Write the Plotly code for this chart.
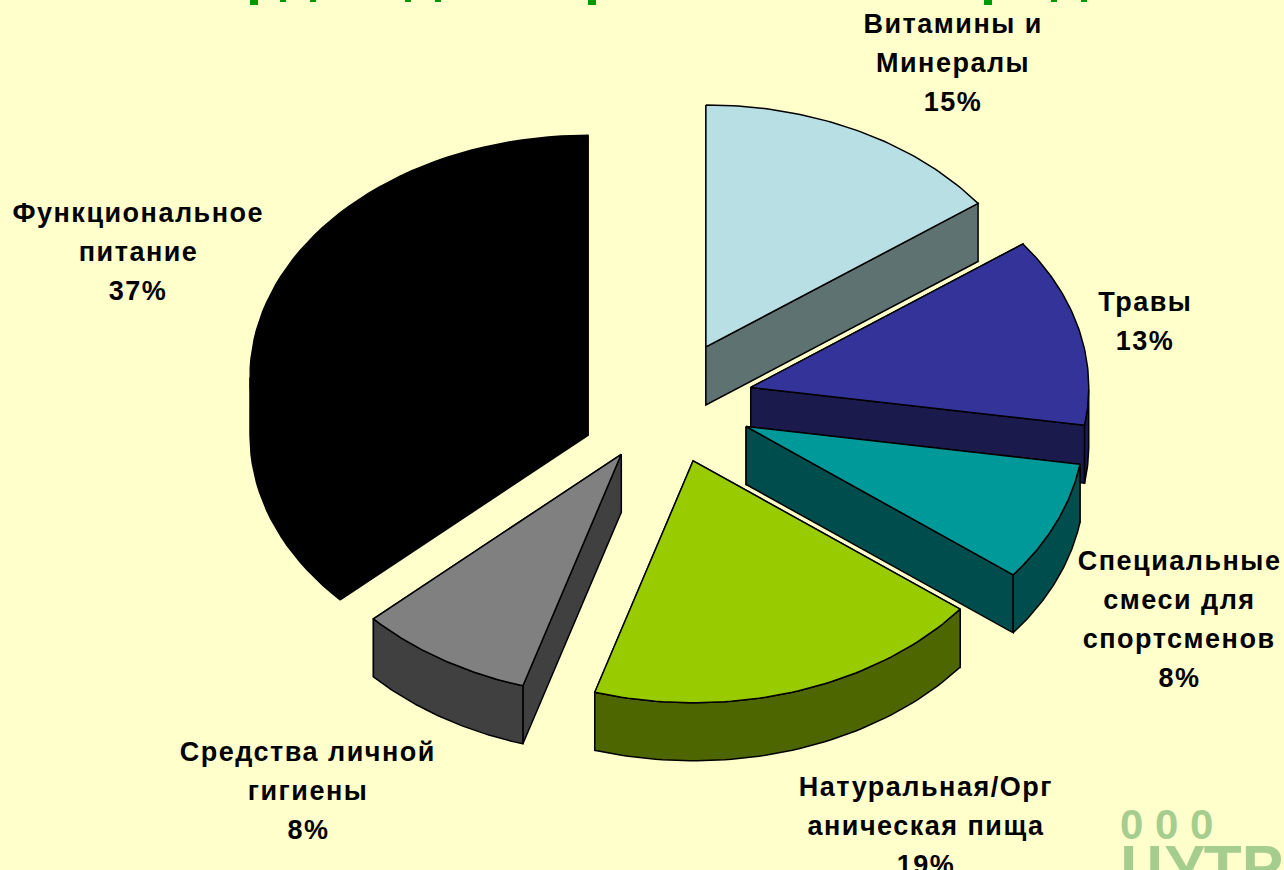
import numpy as np
import plotly.graph_objects as go

# ---- data ----
categories = ["Витамины и<br>Минералы", "Травы", "Специальные<br>смеси для<br>спортсменов",
              "Натуральная/Орг<br>аническая пища", "Средства личной<br>гигиены", "Функциональное<br>питание"]
shares = [14.9, 12.6, 8.0, 19.2, 8.4, 36.9]   # printed on the chart as whole percents

# ---- style ----
top_colors = ["#B8DFE3", "#333399", "#009999", "#99CC00", "#808080", "#000000"]
wall_colors = ["#5F7272", "#1A1A4D", "#004D4D", "#4D6600", "#404040", "#000000"]
label_x = [953, 1145, 1179, 926, 308, 138]
label_y = [24, 302, 561, 787, 752, 213]
line_step = 39
FONT = "Liberation Sans"
BG = "#FFFFCC"
CX, CY, RX, RY, DEPTH, PULL = 667, 402, 338, 242, 58, 0.255
# bottoms of the title letters that show at the top edge: (left, right, height)
title_ticks = [(250, 258, 5), (280, 286, 2), (310, 316, 2), (405, 411, 2), (435, 441, 2),
               (588, 596, 5), (984, 992, 5), (1051, 1057, 2), (1081, 1087, 2)]


def pt(ax, ay, theta):
    return ax + RX * np.sin(theta), ay - RY * np.cos(theta)


fig = go.Figure()
frac = np.array(shares) / sum(shares)
ends = np.cumsum(frac) * 2 * np.pi
starts = ends - frac * 2 * np.pi
mids = (starts + ends) / 2
apex_x = CX + PULL * RX * np.sin(mids)
apex_y = CY - PULL * RY * np.cos(mids)


def poly(xs, ys, fill):
    fig.add_trace(go.Scatter(x=list(xs) + [xs[0]], y=list(ys) + [ys[0]], mode="lines", fill="toself",
                             fillcolor=fill, line=dict(color="#000000", width=1.5),
                             hoverinfo="skip", showlegend=False))


for i in np.argsort(apex_y):
    ax, ay = apex_x[i], apex_y[i]
    th = np.linspace(starts[i], ends[i], 60)
    ax_arc, ay_arc = pt(ax, ay, th)
    walls = []
    for t in (starts[i], ends[i]):
        ex, ey = pt(ax, ay, t)
        xs, ys = [ax, ex, ex, ax], [ay, ey, ey + DEPTH, ay + DEPTH]
        walls.append(((ay + ey) / 2, xs, ys))
    walls.sort(key=lambda w: w[0])
    for _, xs, ys in walls:
        poly(xs, ys, wall_colors[i])
    # outer rim, visible only where it faces the viewer
    tf = th[np.cos(th) <= 0]
    if len(tf) > 1:
        fx, fy = pt(ax, ay, tf)
        poly(list(fx) + list(fx[::-1]), list(fy) + list((fy + DEPTH)[::-1]), wall_colors[i])
    poly(list(ax_arc) + [ax], list(ay_arc) + [ay], top_colors[i])

annotations = []
for cat, share, x, y in zip(categories, shares, label_x, label_y):
    lines = cat.split("<br>") + [f"{round(share)}%"]
    for k, line in enumerate(lines):
        annotations.append(dict(x=x, y=y + k * line_step, text=f"<b>{line}</b>", showarrow=False,
                                xanchor="center", yanchor="middle",
                                font=dict(family=FONT, size=27, color="#000000")))

# watermark in the lower right corner, cut off by the page edge
annotations.append(dict(x=1118, y=824, text="<b>0 0 0</b>", showarrow=False, xanchor="left", yanchor="middle",
                        font=dict(family="Liberation Sans", size=42, color="#A5CD8E")))
annotations.append(dict(x=1118, y=866, text="<b>ЦУТР</b>", showarrow=False, xanchor="left", yanchor="middle",
                        font=dict(family="Liberation Sans", size=62, color="#A5CD8E")))

shapes = [dict(type="rect", x0=a, x1=b, y0=0, y1=h, fillcolor="#009900", line_width=0, layer="above")
          for a, b, h in title_ticks]

fig.update_layout(width=1284, height=870, margin=dict(l=0, r=0, t=0, b=0), autosize=False,
                  paper_bgcolor=BG, plot_bgcolor=BG, showlegend=False,
                  annotations=annotations, shapes=shapes,
                  xaxis=dict(range=[0, 1284], visible=False, fixedrange=True),
                  yaxis=dict(range=[870, 0], visible=False, fixedrange=True))

fig.write_html("out.html", config={"displayModeBar": False},
               post_script="document.body.style.margin='0';document.body.style.overflow='hidden';"
                           "document.querySelectorAll('.annotation-text').forEach(function(t){"
                           "if(parseFloat(t.style.fontSize)===27){t.style.letterSpacing='1.5px';}});")
